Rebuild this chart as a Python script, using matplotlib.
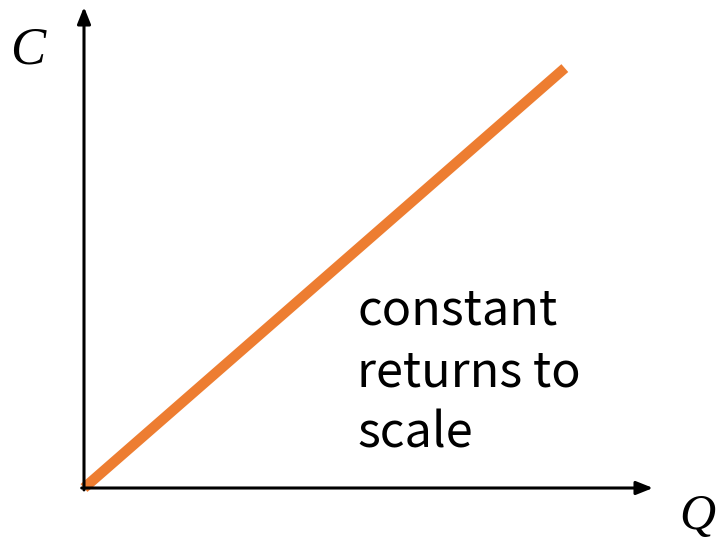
import matplotlib
matplotlib.use("Agg")
import matplotlib.pyplot as plt

# quantity vs cost, constant returns to scale
q = [0.0, 0.845]
c = [0.0, 0.873]

label_text = "constant\nreturns to\nscale"
line_color = "#ED7D31"

fig = plt.figure(figsize=(7.24, 5.42), dpi=100)
ax = fig.add_axes([84 / 724, 54 / 542, 569 / 724, 481 / 542])
ax.set_xlim(0, 1)
ax.set_ylim(0, 1)
ax.axis("off")

# axes with arrow heads
arrow = dict(arrowstyle="-|>,head_width=0.4,head_length=1.0", color="black", lw=2.2,
             shrinkA=0, shrinkB=0)
ax.annotate("", xy=(1.0, 0.0), xytext=(-0.004, 0.0), arrowprops=arrow, annotation_clip=False)
ax.annotate("", xy=(0.0, 1.0), xytext=(0.0, -0.004), arrowprops=arrow, annotation_clip=False)

ax.plot(q, c, color=line_color, lw=7.5, solid_capstyle="butt", clip_on=False)

fig.text(28 / 724, 1 - 51 / 542, "C", fontsize=38, family="Liberation Serif",
         style="italic", ha="center", va="center")
fig.text(697 / 724, 1 - 517 / 542, "Q", fontsize=36, family="Liberation Serif",
         style="italic", ha="center", va="center")

fig.text(357 / 724, 1 - 448 / 542, label_text, fontsize=35, family="Noto Sans CJK JP",
         ha="left", va="baseline", linespacing=1.32)

fig.savefig("out.png", dpi=100)
